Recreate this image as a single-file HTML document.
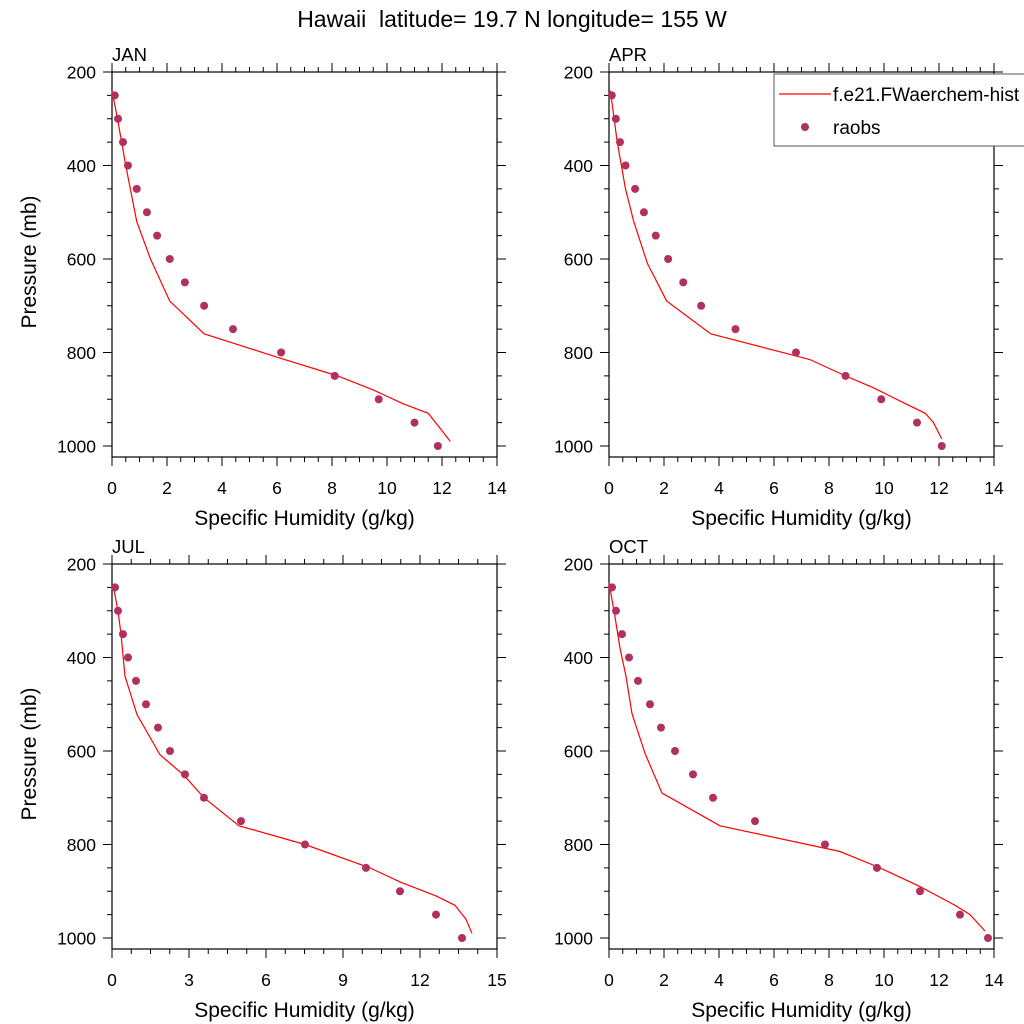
<!DOCTYPE html>
<html><head><meta charset="utf-8"><style>
html,body{margin:0;padding:0;background:#fff}
svg{display:block;font-family:"Liberation Sans",sans-serif}
</style></head><body>
<svg id="s" width="1024" height="1024" viewBox="0 0 1024 1024" xmlns="http://www.w3.org/2000/svg">
<text x="512" y="27" font-size="23" text-anchor="middle" style="white-space:pre">Hawaii  latitude= 19.7 N longitude= 155 W</text>
</svg>
<script>
const S=document.getElementById('s');let h='';
function panel(x0,y0,xmax,xstep,minor,name,line,dots,leftLabel){
  const W=385,ky=0.4675,x1=x0+W,y1=y0+385;
  const Y=p=>y0+(p-200)*ky,X=d=>x0+d*W/xmax;
  h+=`<rect x="${x0}" y="${y0}" width="${W}" height="385" fill="none" stroke="#000" stroke-width="1.2"/>`;
  h+=`<text x="${x0}" y="${y0-11}" font-size="18.5">${name}</text>`;
  for(let d=0;d<=xmax+1e-9;d+=minor){const maj=Math.abs(d/xstep-Math.round(d/xstep))<1e-6;const L=maj?9:5;const x=X(d);
    h+=`<line x1="${x}" y1="${y0}" x2="${x}" y2="${y0-L}" stroke="#000"/><line x1="${x}" y1="${y1}" x2="${x}" y2="${y1+L}" stroke="#000"/>`;
    if(maj)h+=`<text x="${x}" y="${y1+37}" font-size="17.5" text-anchor="middle">${Math.round(d)}</text>`;}
  for(let p=200;p<=1000;p+=50){const maj=p%200==0;const L=maj?9:5;const y=Y(p);
    h+=`<line x1="${x0}" y1="${y}" x2="${x0-L}" y2="${y}" stroke="#000"/><line x1="${x1}" y1="${y}" x2="${x1+L}" y2="${y}" stroke="#000"/>`;
    if(maj)h+=`<text x="${x0-16}" y="${y+6.5}" font-size="17.5" text-anchor="end">${p}</text>`;}
  h+=`<text x="${x0+W/2}" y="${y1+68}" font-size="21" text-anchor="middle">Specific Humidity (g/kg)</text>`;
  if(leftLabel)h+=`<text transform="translate(36,${y0+190}) rotate(-90)" font-size="21" text-anchor="middle">Pressure (mb)</text>`;
  h+=`<polyline fill="none" stroke="#f00" stroke-width="1.2" points="${line.map(a=>X(a[0])+','+Y(a[1])).join(' ')}"/>`;
  dots.forEach((d,i)=>{h+=`<circle cx="${X(d)}" cy="${Y(250+i*50)}" r="4" fill="#b03060"/>`;});
}
panel(112,72,14,2,0.5,'JAN',
 [[0,240],[0.2,300],[0.5,400],[0.9,520],[1.4,600],[2.1,690],[3.35,760],[6,810],[8.2,850],[9.5,880],[10.6,910],[11.5,930],[11.9,960],[12.3,990]],
 [0.1,0.22,0.4,0.58,0.9,1.27,1.64,2.1,2.65,3.35,4.4,6.15,8.1,9.7,11.0,11.85],true);
panel(609,72,14,2,0.5,'APR',
 [[0.05,240],[0.3,350],[0.6,450],[0.9,520],[1.4,610],[2.1,690],[3.7,760],[7.3,815],[8.6,850],[9.6,875],[10.8,910],[11.5,930],[11.8,950],[12.1,985]],
 [0.1,0.25,0.4,0.6,0.95,1.27,1.7,2.15,2.7,3.35,4.6,6.8,8.6,9.9,11.2,12.1],false);
const jx=v=>(v-112)/25.667;
panel(112,564,15,3,0.75,'JUL',
 [[113,245],[118,300],[121,350],[125,440],[137,522],[160,608],[184,652],[204,700],[239,760],[305,800],[370,850],[400,880],[436,910],[455,930],[466,960],[472,990]].map(a=>[jx(a[0]),a[1]]),
 [115,118,123,128,136,146,158,170,185,204,241,305,366,400,436,462].map(jx),true);
const ox=v=>(v-609)/27.5;
panel(609,564,14,2,0.5,'OCT',
 [[609,240],[614,300],[620,380],[626,440],[632,520],[645,605],[662,690],[720,760],[840,815],[880,850],[920,890],[955,930],[970,950],[985,985]].map(a=>[ox(a[0]),a[1]]),
 [612,616,622,629,638,650,661,675,693,713,755,825,877,920,960,988].map(ox),false);
h+=`<rect x="774" y="74" width="260" height="72" fill="#fff" stroke="#555" stroke-width="1"/>`;
h+=`<line x1="779" y1="94" x2="831" y2="94" stroke="#f00" stroke-width="1.2"/>`;
h+=`<text x="833" y="101" font-size="19">f.e21.FWaerchem-hist</text>`;
h+=`<circle cx="805" cy="127" r="4" fill="#b03060"/><text x="833" y="134" font-size="19">raobs</text>`;
S.insertAdjacentHTML('beforeend',h);
</script>
</body></html>
